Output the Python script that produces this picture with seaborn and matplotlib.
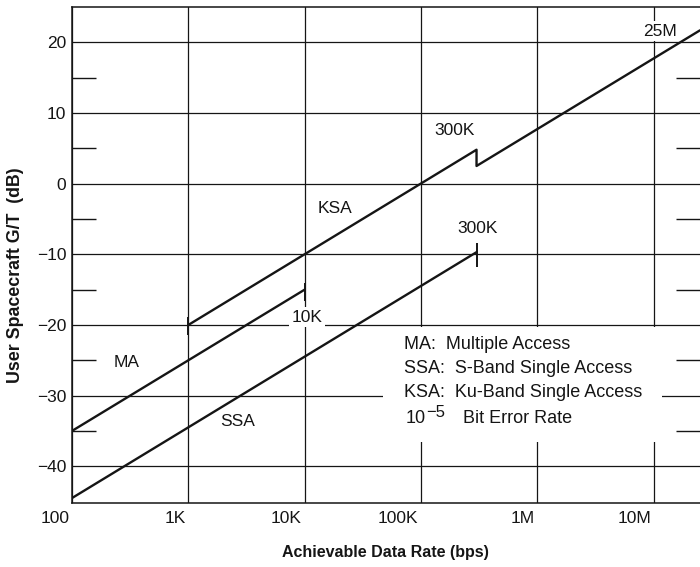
import matplotlib
matplotlib.use("Agg")
import matplotlib.pyplot as plt
from matplotlib.ticker import NullLocator, FixedLocator
from matplotlib.transforms import ScaledTranslation
from matplotlib.patches import Rectangle
import seaborn as sns
import pandas as pd

# Link curves: achievable data rate (bps) vs required user G/T (dB)
ma_rate = [100, 10e3]
ma_gt = [-35.0, -15.0]

ssa_rate = [100, 300e3]
ssa_gt = [-44.5, -9.7]

ksa_rate = [1e3, 300e3, 300e3, 25e6]
ksa_gt = [-20.0, 4.8, 2.5, 21.7]

x_ticks = [1e2, 1e3, 1e4, 1e5, 1e6, 1e7]
x_tick_labels = ["100", "1K", "10K", "100K", "1M", "10M"]
y_ticks = [-40, -30, -20, -10, 0, 10, 20]
y_minor = [-35, -25, -15, -5, 5, 15]

key_lines = ["MA:  Multiple Access",
             "SSA:  S-Band Single Access",
             "KSA:  Ku-Band Single Access"]
ber_base, ber_exp, ber_text = "10", "\u22125", "Bit Error Rate"

sns.set_theme(style="white")
plt.rcParams["font.family"] = ["Liberation Sans", "DejaVu Sans"]

ink = "#151515"

fig = plt.figure(figsize=(7.0, 5.67), dpi=100)
ax = fig.add_axes([72 / 700, 1 - 503 / 567, 1 - 72 / 700, (503 - 7) / 567])

frames = {
    "MA": pd.DataFrame({"rate": ma_rate, "gt": ma_gt}),
    "SSA": pd.DataFrame({"rate": ssa_rate, "gt": ssa_gt}),
    "KSA": pd.DataFrame({"rate": ksa_rate, "gt": ksa_gt}),
}
for name, df in frames.items():
    sns.lineplot(data=df, x="rate", y="gt", ax=ax, color=ink, lw=1.7,
                 sort=False, estimator=None, zorder=3)

# end-of-range bars on each service curve
ax.plot([ma_rate[-1]], [ma_gt[-1] - 0.4], marker="|", ms=13, mew=1.4,
        color=ink, ls="none", zorder=3)
ax.plot([ksa_rate[0]], [ksa_gt[0] - 0.2], marker="|", ms=13, mew=1.4,
        color=ink, ls="none", zorder=3)
ax.plot([ssa_rate[-1]], [ssa_gt[-1] - 0.4], marker="|", ms=17, mew=1.4,
        color=ink, ls="none", zorder=3)

ax.set_xscale("log")
ax.set_xlim(100, 25e6)
ax.set_ylim(-45.2, 25.0)

ax.xaxis.set_major_locator(FixedLocator(x_ticks))
ax.xaxis.set_minor_locator(NullLocator())
ax.set_xticklabels(x_tick_labels)
ax.set_yticks(y_ticks)
ax.set_yticks(y_minor, minor=True)

ax.grid(True, which="major", color=ink, lw=0.9)
ax.set_axisbelow(True)

for side in ("left", "bottom", "top"):
    ax.spines[side].set_visible(True)
    ax.spines[side].set_color(ink)
    ax.spines[side].set_linewidth(1.1)
ax.spines["right"].set_visible(False)

ax.tick_params(axis="both", which="major", length=0, labelsize=12.5,
               colors=ink)
ax.tick_params(axis="x", pad=6)
ax.tick_params(axis="y", pad=4)
ax.tick_params(axis="y", which="minor", direction="in", length=17,
               width=1.0, color=ink, left=True, right=True)

# tick labels sit to the left of their gridlines
shift = ScaledTranslation(-2 / 72, 0, fig.dpi_scale_trans)
for lab in ax.get_xticklabels():
    lab.set_horizontalalignment("right")
    lab.set_transform(lab.get_transform() + shift)

ax.set_xlabel("")
ax.set_ylabel("")
fig.text(385 / 700, 1 - 553 / 567, "Achievable Data Rate (bps)",
         ha="center", va="center", fontsize=11.5, fontweight="bold", color=ink)
fig.text(16 / 700, 1 - 275 / 567, "User Spacecraft G/T  (dB)",
         ha="center", va="center", rotation=90, fontsize=12.8,
         fontweight="bold", color=ink)

box = dict(fc="white", ec="none", pad=2)
labels = [
    (11.4e6, 21.6, "25M"),
    (196e3, 7.55, "300K"),
    (18.2e3, -3.5, "KSA"),
    (309e3, -6.3, "300K"),
    (10.5e3, -18.9, "10K"),
    (297, -25.3, "MA"),
    (2.67e3, -33.6, "SSA"),
]
for x, y, s in labels:
    ax.text(x, y, s, ha="center", va="center", fontsize=12.5, color=ink,
            bbox=box, zorder=4)

# white panel behind the key text
ax.add_patch(Rectangle((0.495, 0.123), 0.445, 0.232, transform=ax.transAxes,
                       fc="white", ec="none", zorder=2))
key_y = [-22.7, -26.1, -29.5, -33.2]
for y, s in zip(key_y, key_lines):
    ax.text(72e3, y, s, ha="left", va="center", fontsize=13, color=ink,
            zorder=4)

base = ax.text(74e3, key_y[3], ber_base, ha="left", va="center",
               fontsize=13, color=ink, zorder=4)
ax.annotate(ber_exp, xy=(1, 0.38), xycoords=base, xytext=(0.5, 0),
            textcoords="offset points", ha="left", va="bottom",
            fontsize=12, color=ink, zorder=4)
ax.annotate(ber_text, xy=(1, 0.5), xycoords=base, xytext=(27, 0),
            textcoords="offset points", ha="left", va="center",
            fontsize=13, color=ink, zorder=4)

fig.savefig("out.png", dpi=100)
